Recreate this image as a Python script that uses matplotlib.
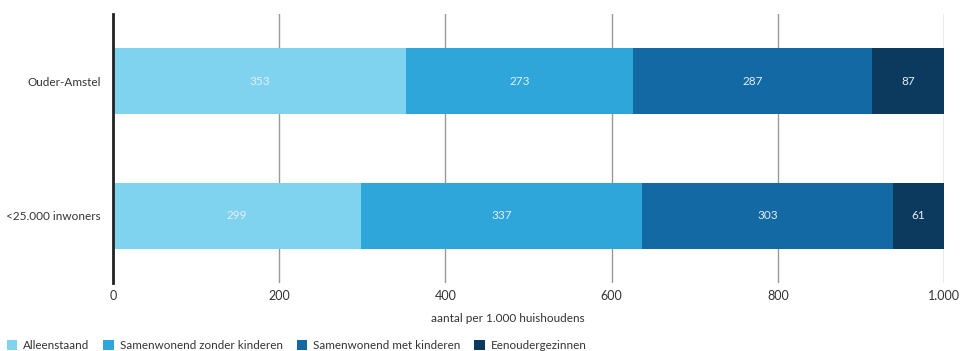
import matplotlib.pyplot as plt
import numpy as np

plt.rcParams['font.family'] = ['Lato', 'DejaVu Sans']

categories = ['Ouder-Amstel', '<25.000 inwoners']
series = ['Alleenstaand', 'Samenwonend zonder kinderen', 'Samenwonend met kinderen', 'Eenoudergezinnen']
values = [
    [353, 299],
    [273, 337],
    [287, 303],
    [87, 61],
]
colors = ['#7fd3ee', '#2ea6da', '#1269a4', '#0c3a5e']
xticks = [0, 200, 400, 600, 800, 1000]
xticklabels = ['0', '200', '400', '600', '800', '1.000']

fig = plt.figure(figsize=(9.61, 3.51), dpi=100)
ax = fig.add_axes([0.1176, 0.1937, 0.8647, 0.7663])

y = np.arange(len(categories))
left = np.zeros(len(categories))
for name, vals, c in zip(series, values, colors):
    bars = ax.barh(y, vals, left=left, height=0.49, color=c, label=name, zorder=2)
    for b, v in zip(bars, vals):
        ax.text(b.get_x() + b.get_width() / 2, b.get_y() + b.get_height() / 2, str(v),
                ha='center', va='center', color='#e8eef3', fontsize=8.5, zorder=3)
    left = left + np.array(vals)

ax.set_ylim(1.5, -0.5)
ax.set_xlim(0, 1000)
ax.set_yticks(y)
ax.set_yticklabels(categories, fontsize=8.5, color='#333333')
ax.set_xticks(xticks)
ax.set_xticklabels(xticklabels, fontsize=9, color='#333333')
ax.tick_params(axis='y', length=0, pad=9)
ax.tick_params(axis='x', length=0, pad=5)
ax.grid(axis='x', color='#999999', linewidth=1, zorder=0)
for s in ['top', 'right', 'bottom']:
    ax.spines[s].set_visible(False)
ax.spines['left'].set_linewidth(2)
ax.spines['left'].set_color('#222222')
ax.spines['left'].set_zorder(4)

fig.text(0.528, 0.094, 'aantal per 1.000 huishoudens', ha='center', va='center',
         fontsize=8.5, color='#333333')

fig.legend(loc='lower left', bbox_to_anchor=(-0.004, -0.03), ncol=4, frameon=False,
           fontsize=8.4, handlelength=0.9, handleheight=0.9, handletextpad=0.5,
           columnspacing=1.2, labelcolor='#333333')

fig.savefig('out.png', dpi=100)
